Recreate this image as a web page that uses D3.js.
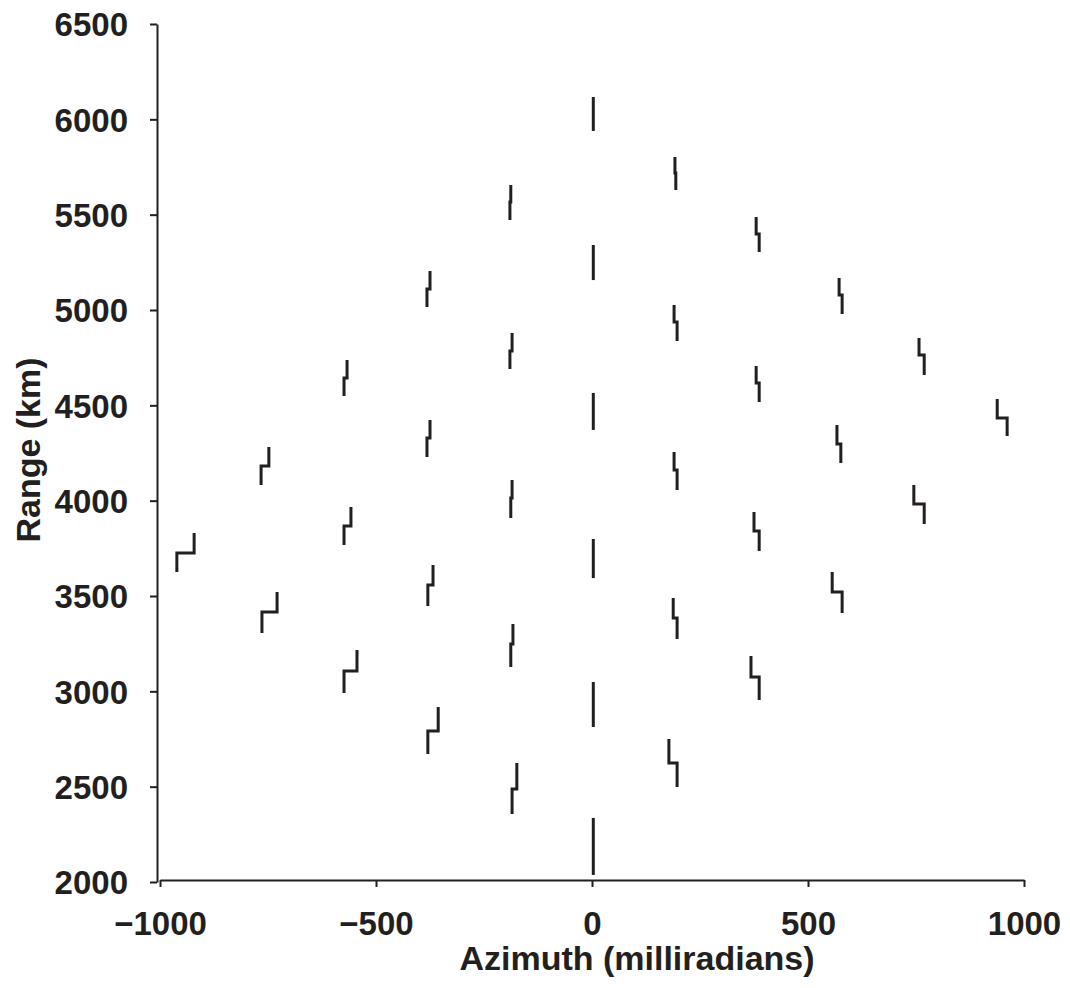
<!DOCTYPE html>
<html>
<head>
<meta charset="utf-8">
<script src="https://cdn.jsdelivr.net/npm/d3@7"></script>
<style>
  body { margin: 0; background: #fff; }
  svg text { font-family: "Liberation Sans", Arial, Helvetica, sans-serif; font-weight: bold; fill: #231f20; }
</style>
</head>
<body>
<div id="chart"></div>
<script>
// each target trace: azimuth of upper segment, azimuth of lower segment,
// range at top, range at the step, range at bottom
const topAz = [-921, -748, -729, -567, -558, -544, -375, -375, -368, -356,
  -188, -185, -185, -183, -174, 3, 3, 3, 3, 3, 3,
  192, 190, 190, 188, 178, 380, 380, 375, 368, 572, 567, 556, 757, 745, 938];
const botAz = [-961, -766, -764, -574, -574, -574, -382, -382, -380, -380,
  -190, -190, -188, -188, -185, 3, 3, 3, 3, 3, 3,
  194, 197, 197, 197, 197, 387, 387, 387, 387, 579, 576, 579, 769, 769, 961];
const topRange = [3830, 4282, 3521, 4738, 3967, 3217, 5205, 4423, 3663, 2918,
  5656, 4879, 4108, 3353, 2624, 6117, 5341, 4565, 3799, 3049, 2336,
  5803, 5026, 4255, 3490, 2750, 5488, 4706, 3941, 3185, 5168, 4397, 3626, 4853, 4082, 4533];
const stepRange = [3726, 4182, 3416, 4643, 3867, 3107, 5110, 4329, 3558, 2792,
  5566, 4785, 4014, 3248, 2488, 6028, 5249, 4468, 3697, 2931, 2186,
  5719, 4937, 4161, 3385, 2624, 5399, 4617, 3841, 3075, 5079, 4297, 3521, 4764, 3983, 4434];
const botRange = [3626, 4082, 3306, 4549, 3768, 2991, 5016, 4229, 3448, 2671,
  5472, 4691, 3909, 3128, 2357, 5939, 5157, 4371, 3594, 2813, 2037,
  5629, 4837, 4056, 3275, 2498, 5304, 4518, 3736, 2955, 4979, 4198, 3411, 4659, 3878, 4339];

const xTicks = [-1000, -500, 0, 500, 1000];
const yTicks = [2000, 2500, 3000, 3500, 4000, 4500, 5000, 5500, 6000, 6500];

const width = 1070, height = 988;
const svg = d3.select('#chart').append('svg')
  .attr('width', width)
  .attr('height', height);

const x = d3.scaleLinear().domain([-1000, 1000]).range([160, 1024]);
const y = d3.scaleLinear().domain([2000, 6500]).range([882, 24]);
const fmt = d3.format('d');

// axes
const xAxis = svg.append('g')
  .attr('transform', `translate(0,${y(2000) - 2})`)
  .call(d3.axisBottom(x).tickValues(xTicks).tickFormat(fmt)
    .tickSize(7).tickPadding(25).tickSizeOuter(0));
const yAxis = svg.append('g')
  .attr('transform', `translate(${x(-1000) - 3},0)`)
  .call(d3.axisLeft(y).tickValues(yTicks).tickFormat(fmt)
    .tickSize(7).tickPadding(22).tickSizeOuter(0));

[xAxis, yAxis].forEach(ax => {
  ax.select('.domain').attr('stroke', '#231f20').attr('stroke-width', 2);
  ax.selectAll('.tick line').attr('stroke', '#231f20').attr('stroke-width', 2);
  ax.selectAll('.tick text').attr('font-size', 33).attr('fill', '#231f20');
});
yAxis.selectAll('.tick text').attr('dy', '0.36em');

svg.append('text')
  .attr('x', 637)
  .attr('y', 970)
  .attr('text-anchor', 'middle')
  .attr('font-size', 34)
  .text('Azimuth (milliradians)');

svg.append('text')
  .attr('transform', `translate(40,450) rotate(-90)`)
  .attr('text-anchor', 'middle')
  .attr('font-size', 34)
  .text('Range (km)');

// target traces
const traces = topAz.map((a, i) => [
  [a, topRange[i]],
  [a, stepRange[i]],
  [botAz[i], stepRange[i]],
  [botAz[i], botRange[i]]
]);

const line = d3.line()
  .x(d => x(d[0]))
  .y(d => y(d[1]));

svg.append('g')
  .selectAll('path')
  .data(traces)
  .enter()
  .append('path')
  .attr('d', line)
  .attr('fill', 'none')
  .attr('stroke', '#231f20')
  .attr('stroke-width', 3);
</script>
</body>
</html>
